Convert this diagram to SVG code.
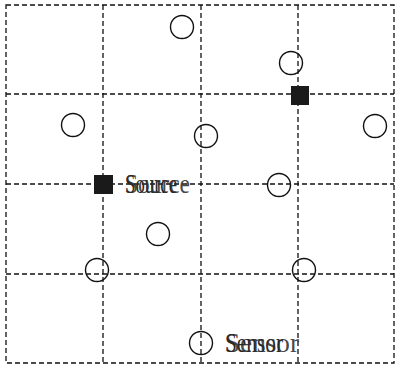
<svg xmlns="http://www.w3.org/2000/svg" width="395" height="372" viewBox="0 0 395 372">
<style>
.grid{stroke:#111;stroke-width:1.3;stroke-dasharray:5 3;fill:none}
.sensor{fill:none;stroke:#111;stroke-width:1.4}
.source{fill:#1a1a1a}
.lbl{font-family:"Liberation Serif",serif;font-size:27px;fill:#2a2a2a}
.lbl2{font-family:"Liberation Serif",serif;font-size:27px;fill:#2a2a2a;opacity:0.85}
</style>
<rect width="395" height="372" fill="#fff"/>
<g id="connectors">
<rect class="grid" x="6" y="5" width="388" height="358"/>
<line class="grid" x1="103" y1="5" x2="103" y2="363"/>
<line class="grid" x1="201" y1="5" x2="201" y2="363"/>
<line class="grid" x1="298" y1="5" x2="298" y2="363"/>
<line class="grid" x1="6" y1="94" x2="394" y2="94"/>
<line class="grid" x1="6" y1="184" x2="394" y2="184"/>
<line class="grid" x1="6" y1="274" x2="394" y2="274"/>
</g>
<g id="s1"><circle class="sensor" cx="182" cy="27" r="11.5"/></g>
<g id="s2"><circle class="sensor" cx="291" cy="63" r="11.5"/></g>
<g id="s3"><circle class="sensor" cx="73" cy="125" r="11.5"/></g>
<g id="s4"><circle class="sensor" cx="206" cy="136" r="11.5"/></g>
<g id="s5"><circle class="sensor" cx="375" cy="126" r="11.5"/></g>
<g id="s6"><circle class="sensor" cx="279" cy="185" r="11.5"/></g>
<g id="s7"><circle class="sensor" cx="158" cy="234" r="11.5"/></g>
<g id="s8"><circle class="sensor" cx="97" cy="270" r="11.5"/></g>
<g id="s9"><circle class="sensor" cx="304" cy="270" r="11.5"/></g>
<g id="s10"><circle class="sensor" cx="201" cy="343" r="11.5"/>
<text class="lbl" x="225" y="352" textLength="58" lengthAdjust="spacingAndGlyphs">Sensor</text>
<text class="lbl2" x="225" y="352" textLength="74" lengthAdjust="spacingAndGlyphs">Sensor</text>
</g>
<g id="src1"><rect class="source" x="94" y="175" width="19" height="19"/>
<text class="lbl" x="125" y="193" textLength="52" lengthAdjust="spacingAndGlyphs">Source</text>
<text class="lbl2" x="125" y="193" textLength="65" lengthAdjust="spacingAndGlyphs">Source</text>
</g>
<g id="src2"><rect class="source" x="291" y="86" width="18" height="19"/></g>
</svg>
